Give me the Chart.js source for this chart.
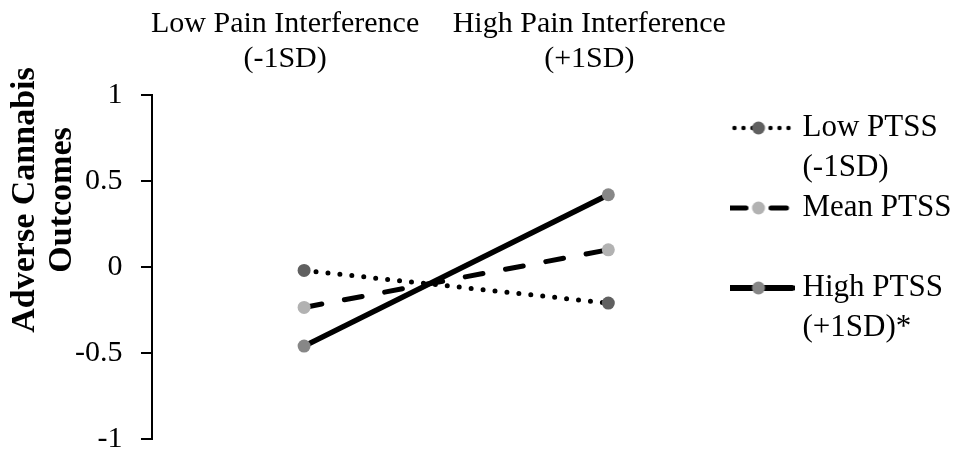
<!DOCTYPE html>
<html>
<head>
<meta charset="utf-8">
<title>Adverse Cannabis Outcomes</title>
<script src="https://cdn.jsdelivr.net/npm/chart.js"></script>
<style>
  html, body { margin: 0; padding: 0; background: #fff; }
  #wrap { width: 955px; height: 451px; position: relative; }
</style>
</head>
<body>
<div id="wrap"><canvas id="chart"></canvas></div>
<script>
// categories (top axis), one entry per tick, lines split for wrapping
const categories = [
  ["Low Pain Interference", "(-1SD)"],
  ["High Pain Interference", "(+1SD)"],
];

// simple slopes
const lowPTSS = [-0.02, -0.21];
const meanPTSS = [-0.235, 0.1];
const highPTSS = [-0.46, 0.42];

const seriesNames = ["Low PTSS (-1SD)", "Mean PTSS", "High PTSS (+1SD)*"];
const legendLines = [["Low PTSS", "(-1SD)"], ["Mean PTSS", ""], ["High PTSS", "(+1SD)*"]];

const yTicks = [-1, -0.5, 0, 0.5, 1];
const yTitle = ["Adverse Cannabis", "Outcomes"];

const serif = "'Liberation Serif', 'Times New Roman', serif";
Chart.defaults.font.family = serif;
Chart.defaults.color = "#000";

const toPoints = (vals) => vals.map((y, i) => ({ x: i, y: y }));

// little line + marker swatch used as the legend symbol
function legendSample(dash, width, from, to, marker) {
  const c = document.createElement("canvas");
  c.width = 72;
  c.height = 16;
  const g = c.getContext("2d");
  g.strokeStyle = "#000";
  g.lineWidth = width;
  g.lineCap = "round";
  g.setLineDash(dash);
  g.beginPath();
  g.moveTo(from, 8);
  g.lineTo(to, 8);
  g.stroke();
  g.setLineDash([]);
  g.fillStyle = marker;
  g.beginPath();
  g.arc(36, 8, 6.5, 0, Math.PI * 2);
  g.fill();
  return c;
}

const samples = [
  legendSample([0, 9], 4.5, 3, 67, "#606060"),
  legendSample([20, 25], 5, 3.5, 64, "#b2b2b2"),
  legendSample([], 6, 2.5, 69.5, "#878787"),
];

// draws the rotated two-line y axis title, sitting above the axis middle like the original
const yTitlePlugin = {
  id: "yTitle",
  afterDraw(chart) {
    const { ctx, chartArea } = chart;
    ctx.save();
    ctx.font = "bold 34px " + serif;
    ctx.fillStyle = "#000";
    ctx.textAlign = "center";
    ctx.textBaseline = "middle";
    ctx.translate(chartArea.left - 108.5, chartArea.top + 105);
    ctx.rotate(-Math.PI / 2);
    yTitle.forEach((t, i) => ctx.fillText(t, 0, (i - 0.5) * 37));
    ctx.restore();
  },
};

const pointStyle = {
  pointRadius: 6.5,
  pointHoverRadius: 6.5,
  pointBorderWidth: 0,
  borderColor: "#000",
  fill: false,
};

new Chart(document.getElementById("chart"), {
  type: "line",
  data: {
    datasets: [
      {
        ...pointStyle,
        label: seriesNames[0],
        data: toPoints(lowPTSS),
        borderWidth: 5,
        borderDash: [0, 12],
        borderCapStyle: "round",
        pointBackgroundColor: "#606060",
      },
      {
        ...pointStyle,
        label: seriesNames[1],
        data: toPoints(meanPTSS),
        borderWidth: 5,
        borderDash: [18, 23],
        borderCapStyle: "round",
        pointBackgroundColor: "#b2b2b2",
      },
      {
        ...pointStyle,
        label: seriesNames[2],
        data: toPoints(highPTSS),
        borderWidth: 5.5,
        pointBackgroundColor: "#878787",
      },
    ],
  },
  options: {
    responsive: true,
    maintainAspectRatio: false,
    animation: false,
    layout: { padding: { top: 6.5, left: 75, right: 0, bottom: 0 } },
    scales: {
      x: {
        type: "linear",
        position: "top",
        min: -0.5,
        max: 1.4,
        // invisible tick marks give the gap between labels and plot (padding counts twice in fit)
        grid: { drawOnChartArea: false, drawTicks: true, tickLength: 18.5, tickColor: "rgba(0,0,0,0)" },
        border: { display: false },
        afterBuildTicks: (axis) => {
          axis.ticks = categories.map((c, i) => ({ value: i }));
        },
        ticks: {
          autoSkip: false,
          maxRotation: 0,
          padding: 0,
          labelOffset: -19,
          color: "#000",
          font: { size: 30, lineHeight: 35 / 30 },
          callback: (v) => categories[Math.round(v)],
        },
      },
      y: {
        min: -1,
        max: 1,
        afterBuildTicks: (axis) => {
          axis.ticks = yTicks.map((v) => ({ value: v }));
        },
        grid: {
          drawOnChartArea: false,
          drawTicks: true,
          tickLength: 29.5,
          // only the 10px next to the axis is visible
          tickBorderDash: [0, 18.5, 20, 100],
          color: "#000",
          lineWidth: 2,
        },
        border: { display: true, color: "#000", width: 2 },
        ticks: {
          padding: 0,
          color: "#000",
          font: { size: 30, lineHeight: 0.8 },
          callback: (v) => String(v),
        },
      },
    },
    plugins: {
      tooltip: { enabled: false },
      legend: {
        position: "right",
        align: "center",
        maxWidth: 225,
        title: { display: true, text: "", font: { size: 7.5, lineHeight: 1 } },
        labels: {
          usePointStyle: true,
          pointStyleWidth: 57,
          padding: 0,
          color: "#000",
          font: { size: 31, lineHeight: 40 / 31 },
          generateLabels(chart) {
            const items = Chart.defaults.plugins.legend.labels.generateLabels(chart);
            return items.map((item, i) => ({
              ...item,
              text: legendLines[i],
              pointStyle: samples[i],
            }));
          },
        },
      },
    },
  },
  plugins: [yTitlePlugin],
});
</script>
</body>
</html>
